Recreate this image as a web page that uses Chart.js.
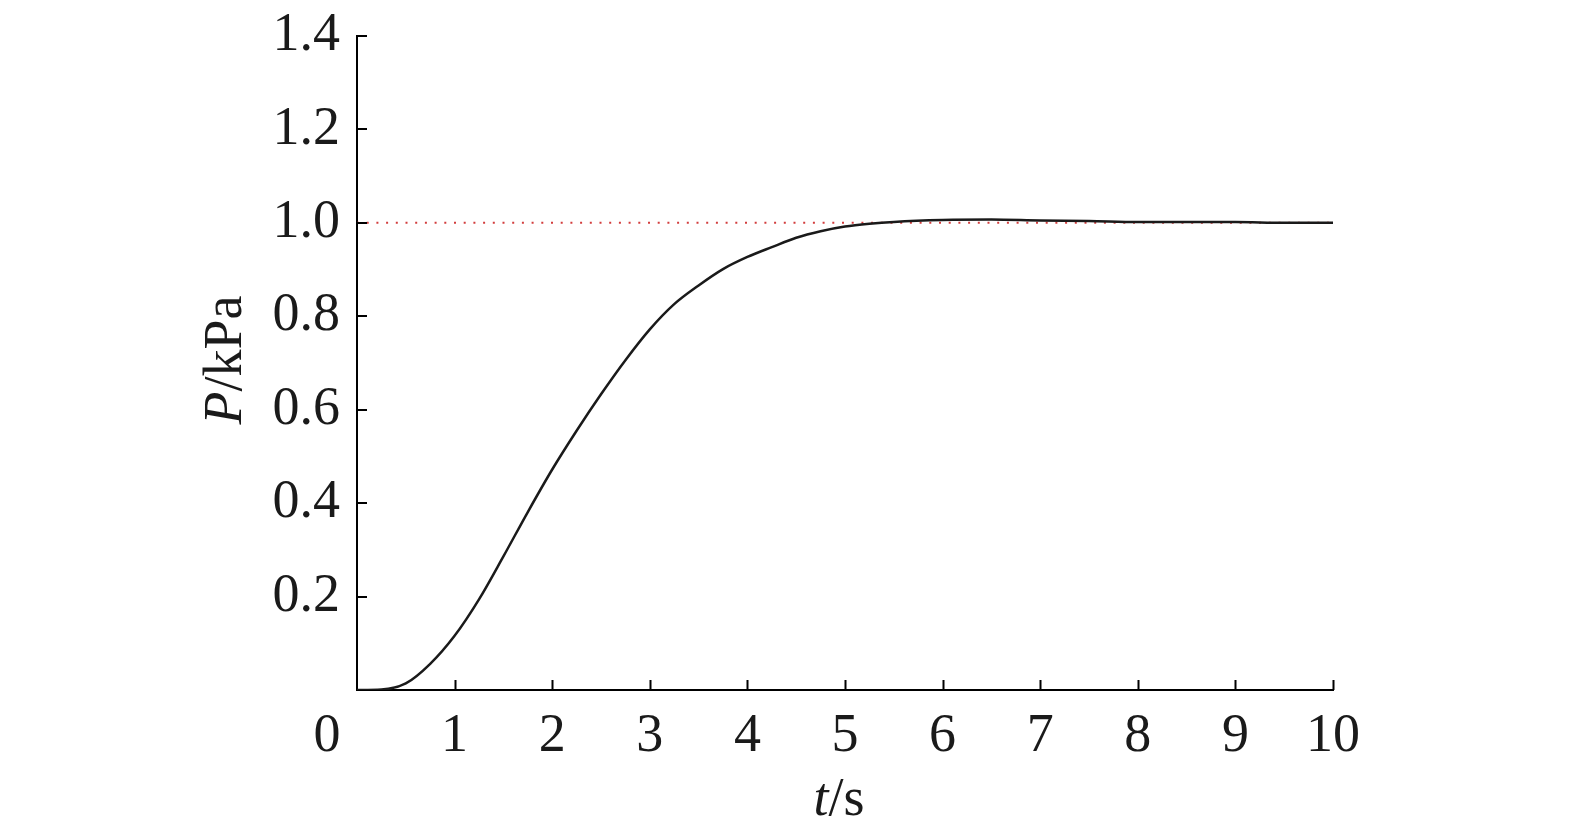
<!DOCTYPE html>
<html>
<head>
<meta charset="utf-8">
<script src="https://cdn.jsdelivr.net/npm/chart.js@4"></script>
<style>
  html, body { margin: 0; padding: 0; background: #fff; }
  #wrap { width: 1575px; height: 835px; }
</style>
</head>
<body>
<div id="wrap"><canvas id="pressureChart"></canvas></div>
<script>
// time in s and pressure in kPa
var times = [0, 0.25, 0.5, 0.75, 1.0, 1.25, 1.5, 1.75, 2.0, 2.25, 2.5, 2.75, 3.0, 3.25, 3.5, 3.75,
  4.0, 4.25, 4.5, 4.75, 5.0, 5.25, 5.5, 6.0, 6.5, 7.0, 7.5, 8.0, 8.5, 9.0, 9.5, 10.0];
var pressure = [0, 0.001, 0.014, 0.056, 0.116, 0.194, 0.286, 0.381, 0.472, 0.555, 0.633, 0.706, 0.772, 0.826, 0.866, 0.901,
  0.927, 0.948, 0.968, 0.982, 0.992, 0.998, 1.002, 1.006, 1.007, 1.005, 1.004, 1.002, 1.002, 1.002, 1.0, 1.0];
var refTimes = [0, 10];
var refLevel = [1.0, 1.0];
var xTicks = [0, 1, 2, 3, 4, 5, 6, 7, 8, 9, 10];
var yTicks = [0, 0.2, 0.4, 0.6, 0.8, 1.0, 1.2, 1.4];

var serif = "'Liberation Serif', 'DejaVu Serif', serif";
var fontSize = 54;

function toPoints(xs, ys) {
  var pts = [];
  for (var i = 0; i < xs.length; i++) pts.push({ x: xs[i], y: ys[i] });
  return pts;
}

// inward tick marks, the shared "0" and the axis titles with italic symbols
var decorations = {
  id: "decorations",
  afterDraw: function(chart) {
    var ctx = chart.ctx;
    var xs = chart.scales.x, ys = chart.scales.y;
    var area = chart.chartArea;
    ctx.save();
    ctx.strokeStyle = "#000";
    ctx.lineWidth = 2;
    ctx.beginPath();
    xTicks.forEach(function(v) {
      if (v === 0) return;
      var px = Math.round(xs.getPixelForValue(v)) + 0.5;
      ctx.moveTo(px, area.bottom);
      ctx.lineTo(px, area.bottom - 10);
    });
    yTicks.forEach(function(v) {
      if (v === 0) return;
      var py = Math.round(ys.getPixelForValue(v));
      ctx.moveTo(area.left, py);
      ctx.lineTo(area.left + 10, py);
    });
    ctx.stroke();

    ctx.fillStyle = "#1a1a1a";
    ctx.font = fontSize + "px " + serif;
    ctx.textAlign = "center";
    ctx.textBaseline = "alphabetic";
    ctx.fillText("0", area.left - 30, 751);

    // x title: t/s
    var it = "italic " + fontSize + "px " + serif;
    var up = fontSize + "px " + serif;
    ctx.textAlign = "left";
    ctx.font = it;
    var w1 = ctx.measureText("t").width;
    ctx.font = up;
    var w2 = ctx.measureText("/s").width;
    var sx = 839 - (w1 + w2) / 2;
    ctx.font = it;
    ctx.fillText("t", sx, 815);
    ctx.font = up;
    ctx.fillText("/s", sx + w1, 815);

    // y title: P/kPa rotated
    ctx.translate(241, 360);
    ctx.rotate(-Math.PI / 2);
    ctx.font = it;
    var p1 = ctx.measureText("P").width;
    ctx.font = up;
    var p2 = ctx.measureText("/kPa").width;
    var sy = -(p1 + p2) / 2;
    ctx.font = it;
    ctx.fillText("P", sy, 0);
    ctx.font = up;
    ctx.fillText("/kPa", sy + p1, 0);
    ctx.restore();
  }
};

new Chart(document.getElementById("pressureChart"), {
  type: "line",
  data: {
    datasets: [{
      data: toPoints(times, pressure),
      borderColor: "#1a1a1a",
      borderWidth: 2.5,
      pointRadius: 0,
      cubicInterpolationMode: "monotone",
      fill: false
    }, {
      data: toPoints(refTimes, refLevel),
      borderColor: "#d23c3c",
      borderWidth: 2,
      borderDash: [2, 7.7],
      pointRadius: 0,
      fill: false
    }]
  },
  plugins: [decorations],
  options: {
    responsive: true,
    maintainAspectRatio: false,
    animation: false,
    events: [],
    layout: {
      padding: { left: 0, top: 36, right: 242, bottom: 0 }
    },
    plugins: {
      legend: { display: false },
      tooltip: { enabled: false }
    },
    scales: {
      x: {
        type: "linear",
        min: 0,
        max: 10,
        afterFit: function(scale) {
          scale.height = 145;
          scale.paddingLeft = 0;
          scale.paddingRight = 0;
        },
        afterBuildTicks: function(scale) {
          scale.ticks = xTicks.map(function(v) { return { value: v }; });
        },
        grid: { display: false, drawTicks: false },
        border: { display: true, color: "#000", width: 2 },
        ticks: {
          padding: 14,
          color: "#1a1a1a",
          font: { family: serif, size: fontSize },
          maxRotation: 0,
          callback: function(value) { return value === 0 ? "" : String(value); }
        }
      },
      y: {
        min: 0,
        max: 1.4,
        afterFit: function(scale) {
          scale.width = 357;
          scale.paddingTop = 0;
          scale.paddingBottom = 0;
        },
        afterBuildTicks: function(scale) {
          scale.ticks = yTicks.map(function(v) { return { value: v }; });
        },
        grid: { display: false, drawTicks: false },
        border: { display: true, color: "#000", width: 2 },
        ticks: {
          padding: 17,
          color: "#1a1a1a",
          font: { family: serif, size: fontSize },
          callback: function(value) { return value === 0 ? "" : value.toFixed(1); }
        }
      }
    }
  }
});
</script>
</body>
</html>
